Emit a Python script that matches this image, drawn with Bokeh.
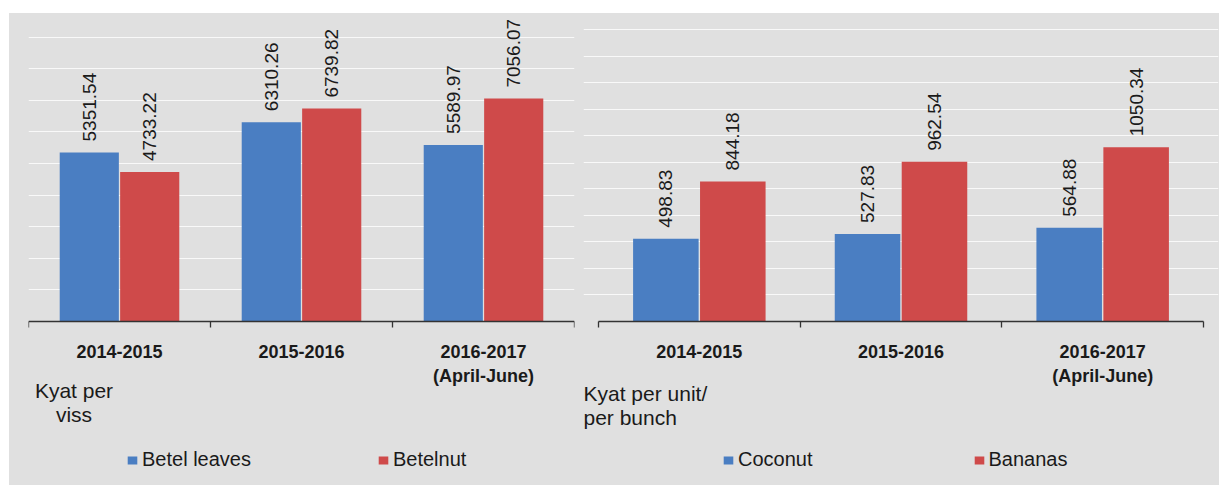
import math
from bokeh.plotting import figure
from bokeh.models import (FactorRange, Range1d, LinearAxis, CategoricalAxis, FixedTicker,
                          ColumnDataSource, Label, Legend, LegendItem, Spacer, Grid)
from bokeh.transform import dodge
from bokeh.layouts import row, column
from bokeh.core.properties import value
from bokeh.embed import file_html
from bokeh.resources import INLINE

# ---- data ----
periods = ["2014-2015", "2015-2016", "2016-2017\n(April-June)"]
betel_leaves = [5351.54, 6310.26, 5589.97]
betelnut = [4733.22, 6739.82, 7056.07]
coconut = [498.83, 527.83, 564.88]
bananas = [844.18, 962.54, 1050.34]
left_names = ["Betel leaves", "Betelnut"]
right_names = ["Coconut", "Bananas"]
left_unit = "Kyat per\nviss"
right_unit = "Kyat per unit/\nper bunch"

BLUE = "#4a7ec2"
RED = "#cf4a4a"
BG = "#e0e0e0"
TXT = "#1a1a1a"
FONT = "Liberation Sans"

FIG_H = 472
ABOVE = 308   # px of frame above the zero line
BELOW = FIG_H - ABOVE


def panel(a, b, names, y_end, grid_step, width, bl, br, pad, unit, unit_x, unit_y,
          unit_align, leg_x, leg_spacing):
    y_start = -y_end * BELOW / ABOVE
    p = figure(x_range=FactorRange(*periods, range_padding=pad, range_padding_units="absolute"),
               y_range=Range1d(y_start, y_end),
               width=width, height=FIG_H, output_backend="svg", toolbar_location=None,
               x_axis_type=None, y_axis_type=None,
               min_border_left=bl, min_border_right=br, min_border_top=0, min_border_bottom=0,
               background_fill_color=BG, border_fill_color=BG, outline_line_color=None)
    ticks = [k * grid_step for k in range(1, int(y_end // grid_step) + 1)]
    p.add_layout(Grid(dimension=1, ticker=FixedTicker(ticks=ticks),
                      grid_line_color="white", grid_line_alpha=0.8, grid_line_width=1.2))
    src = ColumnDataSource(dict(period=periods, a=a, b=b,
                                at=[f"{v:.2f}" for v in a], bt=[f"{v:.2f}" for v in b]))
    ra = p.vbar(x=dodge("period", -0.166, range=p.x_range), top="a", width=0.325,
                source=src, fill_color=BLUE, line_color=None)
    rb = p.vbar(x=dodge("period", 0.166, range=p.x_range), top="b", width=0.325,
                source=src, fill_color=RED, line_color=None)
    for off, col in ((-0.166, "at"), (0.166, "bt")):
        p.text(x=dodge("period", off, range=p.x_range), y=col[0], text=col, source=src,
               angle=math.pi / 2, text_align="left", text_baseline="middle",
               y_offset=-11, text_font=value(FONT), text_font_size="19px", text_color=TXT)
    # axis line at zero with ticks at the category boundaries (synthetic coordinates)
    bounds_ticks = list(range(len(periods) + 1))
    bnd = LinearAxis(ticker=FixedTicker(ticks=bounds_ticks),
                     bounds=(0, len(periods)), fixed_location=0,
                     major_label_overrides={t: "" for t in bounds_ticks},
                     major_tick_out=6, major_tick_in=0, major_label_text_font_size="1px",
                     major_label_standoff=0, axis_line_color="#333333",
                     major_tick_line_color="#333333", minor_tick_line_color=None,
                     axis_line_width=1.3, major_tick_line_width=1.3)
    p.add_layout(bnd, "below")
    cat = CategoricalAxis(fixed_location=0, axis_line_color=None, major_tick_line_color=None,
                          major_tick_out=0, major_tick_in=0, major_label_standoff=20,
                          major_label_text_font=FONT, major_label_text_font_style="bold",
                          major_label_text_font_size="18px", major_label_text_color=TXT)
    p.add_layout(cat, "below")
    p.add_layout(Label(x=unit_x, y=unit_y, x_units="screen", y_units="screen", text=unit,
                       text_align=unit_align, text_baseline="top", text_font=FONT,
                       text_font_size="21px", text_color=TXT, text_line_height=1.05))
    leg = Legend(items=[LegendItem(label=names[0], renderers=[ra]),
                        LegendItem(label=names[1], renderers=[rb])],
                 orientation="horizontal", location=(leg_x, 14), glyph_width=12,
                 glyph_height=10, label_standoff=4, spacing=leg_spacing, padding=0, margin=0,
                 border_line_color=None, background_fill_alpha=0,
                 label_text_font=FONT, label_text_font_size="20px", label_text_color=TXT)
    p.add_layout(leg)
    return p


left = panel(betel_leaves, betelnut, left_names, 9750, 1000, 566, 19, 1, 0.0,
             left_unit, 45.5, 107, "center", 98, 126)
right = panel(coconut, bananas, right_names, 1857, 160, 644, 8, 1, 0.0744,
              right_unit, 0, 104, "left", 139, 160)

layout = column(Spacer(width=1219, height=13),
                row(Spacer(width=9, height=FIG_H, styles={"background-color": "white"}),
                    left, right, styles={"background-color": BG}))
open("out.html", "w").write(file_html(layout, INLINE))
